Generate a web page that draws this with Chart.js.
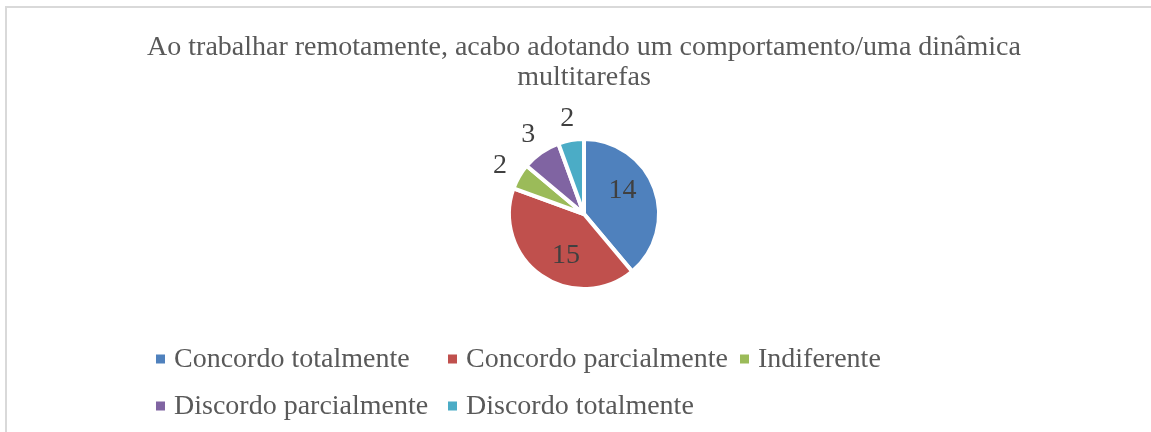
<!DOCTYPE html>
<html>
<head>
<meta charset="utf-8">
<script src="https://cdn.jsdelivr.net/npm/chart.js@4"></script>
<style>
  html, body { margin: 0; padding: 0; background: #fff; overflow: hidden; }
  #frame {
    position: absolute; left: 5px; top: 6px;
    width: 1154px; height: 430px;
    border: 2px solid #d9d9d9; border-right: none; border-bottom: none;
  }
  canvas { display: block; }
</style>
</head>
<body>
<div id="frame"><canvas id="pieChart" width="1154" height="430"></canvas></div>
<script>
var categories = ["Concordo totalmente", "Concordo parcialmente", "Indiferente", "Discordo parcialmente", "Discordo totalmente"];
var values = [14, 15, 2, 3, 2];
var colors = ["#4F81BD", "#C0504D", "#9BBB59", "#8064A2", "#4BACC6"];
var titleLines = ["Ao trabalhar remotamente, acabo adotando um comportamento/uma dinâmica", "multitarefas"];

var FONT = '"Liberation Serif", "Times New Roman", serif';

// value labels: big slices inside, small ones outside
var sliceLabels = {
    id: "sliceLabels",
    afterDatasetsDraw: function (chart) {
        var ctx = chart.ctx;
        var arcs = chart.getDatasetMeta(0).data;
        ctx.save();
        ctx.font = "28px " + FONT;
        ctx.fillStyle = "#404040";
        ctx.textAlign = "center";
        ctx.textBaseline = "middle";
        arcs.forEach(function (arc, i) {
            var mid = (arc.startAngle + arc.endAngle) / 2;
            var inside = values[i] >= 10;
            // Excel's best-fit nudges inner labels a little toward the left
            if (inside) mid -= 0.2;
            var r = inside ? arc.outerRadius * 0.6 : arc.outerRadius + 22;
            ctx.fillText(String(values[i]), arc.x + Math.cos(mid) * r, arc.y + Math.sin(mid) * r);
        });
        ctx.restore();
    }
};

// Excel-style legend: equal column widths, rows left aligned
var gridLegend = {
    id: "gridLegend",
    afterDraw: function (chart) {
        var ctx = chart.ctx;
        ctx.save();
        ctx.font = "28px " + FONT;
        ctx.textAlign = "left";
        var box = 9, gap = 9, cols = 3;
        var colW = 0;
        categories.forEach(function (c) {
            colW = Math.max(colW, box + gap + ctx.measureText(c).width);
        });
        colW += 12;
        var left = chart.width / 2 - cols * colW / 2 + 10;
        var rowY = [351, 398];
        ctx.textBaseline = "middle";
        categories.forEach(function (c, i) {
            var x = left + (i % cols) * colW;
            var y = rowY[Math.floor(i / cols)];
            ctx.fillStyle = colors[i];
            ctx.fillRect(x, y - 4.5, box, box);
            ctx.fillStyle = "#595959";
            ctx.fillText(c, x + box + gap, y + 1);
        });
        ctx.restore();
    }
};

new Chart(document.getElementById("pieChart"), {
    type: "pie",
    data: {
        labels: categories,
        datasets: [{
            data: values,
            backgroundColor: colors,
            borderColor: "#ffffff",
            borderWidth: 4
        }]
    },
    options: {
        responsive: false,
        animation: false,
        events: [],
        layout: { padding: { top: 0, bottom: 147, left: 0, right: 0 } },
        plugins: {
            legend: { display: false },
            tooltip: { enabled: false },
            title: {
                display: true,
                text: titleLines,
                color: "#595959",
                font: { family: FONT, size: 28, weight: "normal", lineHeight: 30 / 28 },
                padding: { top: 25, bottom: 44 }
            }
        }
    },
    plugins: [sliceLabels, gridLegend]
});
</script>
</body>
</html>
